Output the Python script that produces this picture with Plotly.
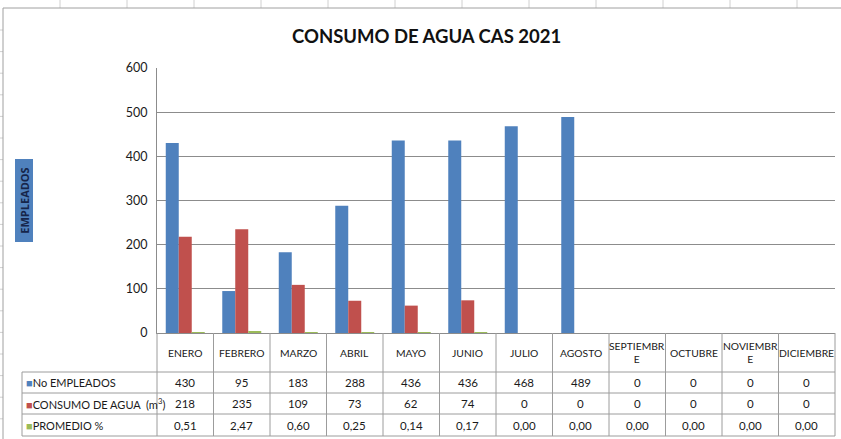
import plotly.graph_objects as go

# ---------------- data ----------------
months = ["ENERO", "FEBRERO", "MARZO", "ABRIL", "MAYO", "JUNIO", "JULIO",
          "AGOSTO", "SEPTIEMBRE", "OCTUBRE", "NOVIEMBRE", "DICIEMBRE"]
month_labels = ["ENERO", "FEBRERO", "MARZO", "ABRIL", "MAYO", "JUNIO", "JULIO",
                "AGOSTO", "SEPTIEMBR<br>E", "OCTUBRE", "NOVIEMBR<br>E", "DICIEMBRE"]
empleados = [430, 95, 183, 288, 436, 436, 468, 489, 0, 0, 0, 0]
consumo = [218, 235, 109, 73, 62, 74, 0, 0, 0, 0, 0, 0]
promedio = [0.51, 2.47, 0.60, 0.25, 0.14, 0.17, 0.00, 0.00, 0.00, 0.00, 0.00, 0.00]
series_names = ["No EMPLEADOS", "CONSUMO DE AGUA  (m<sup>3</sup>)", "PROMEDIO %"]
y_ticks = [0, 100, 200, 300, 400, 500, 600]

BLUE, RED, GREEN = "#4F81BD", "#C0504D", "#9BBB59"
FONT = "Lato, Roboto, sans-serif"
GRID = "#8C8C8C"
TBL = "#9C9C9C"
TXT = "#1A1A1A"

W, H = 841, 439
L, R, T, B = 157, 6, 68, 106
PW, PH = W - L - R, H - T - B


def px(x):
    return (x - L) / PW


def py(y):
    return (H - B - y) / PH


fig = go.Figure()
for name, vals, col in [(series_names[0], empleados, BLUE),
                        (series_names[1], consumo, RED),
                        (series_names[2], promedio, GREEN)]:
    fig.add_trace(go.Bar(x=months, y=vals, name=name, marker_color=col,
                         marker_line_width=0, showlegend=False))

shapes = []
annotations = []


def pline(x0, y0, x1, y1, color, width=1):
    shapes.append(dict(type="line", xref="paper", yref="paper",
                       x0=x0, x1=x1, y0=y0, y1=y1,
                       line=dict(color=color, width=width)))


# spreadsheet background cells (outside chart)
for k in range(13):
    xc = 60 + 67 * k
    if xc < W:
        pline(px(xc), py(0), px(xc), py(8), "#D0D0D0")
for k in range(20):
    yc = 30 + 21.6 * k
    if yc < H:
        pline(px(0), py(yc), px(3), py(yc), "#D0D0D0")
# chart border
pline(px(3), py(8), px(W), py(8), "#A0A0A0")
pline(px(3), py(8), px(3), py(H), "#A0A0A0")

# data table grid
row_bounds = [372, 393, 414, 436]
tbl_left = 22
n = len(months)
for yb in row_bounds:
    pline(px(tbl_left), py(yb), 1, py(yb), TBL)
for i in range(n + 1):
    xb = i / n  # category boundary on the axis range [-0.5, n-0.5]
    pline(xb, 0, xb, py(row_bounds[-1]), TBL)
pline(px(tbl_left), py(row_bounds[0]), px(tbl_left), py(row_bounds[-1]), TBL)

# header row
for m, lab in zip(months, month_labels):
    annotations.append(dict(x=m, y=py(352.5), xref="x", yref="paper",
                            xanchor="center", yanchor="middle",
                            text=lab, showarrow=False,
                            font=dict(family=FONT, size=10.3, color=TXT)))

row_centers = [382.5, 403.5, 425]
rows = [[str(v) for v in empleados],
        [str(v) for v in consumo],
        [f"{v:.2f}".replace(".", ",") for v in promedio]]
colors = [BLUE, RED, GREEN]
for rc, name, col, vals in zip(row_centers, series_names, colors, rows):
    annotations.append(dict(x=px(24), y=py(rc), xref="paper", yref="paper",
                            xanchor="left", yanchor="middle", showarrow=False,
                            text=f"<span style='color:{col}'>■</span>{name}",
                            font=dict(family=FONT, size=11, color=TXT)))
    for m, v in zip(months, vals):
        annotations.append(dict(x=m, y=py(rc), xref="x", yref="paper",
                                xanchor="center", yanchor="middle",
                                text=v, showarrow=False,
                                font=dict(family=FONT, size=11.5, color=TXT)))

# title
annotations.append(dict(x=px(426), y=py(36), xref="paper", yref="paper",
                        xanchor="center", yanchor="middle",
                        text="<b>CONSUMO DE AGUA CAS 2021</b>", showarrow=False,
                        font=dict(family=FONT, size=18.5, color="#111111")))
# y axis title
annotations.append(dict(x=px(23.5), y=py(201), xref="paper", yref="paper",
                        xanchor="center", yanchor="middle",
                        text="<b>EMPLEADOS</b>", textangle=-90, showarrow=False,
                        bgcolor=BLUE, borderpad=0, width=82, height=17,
                        font=dict(family="Open Sans, sans-serif", size=11,
                                  color="#16254A")))

fig.update_layout(
    width=W, height=H,
    margin=dict(l=L, r=R, t=T, b=B),
    paper_bgcolor="white", plot_bgcolor="white",
    barmode="group", bargap=0.31, bargroupgap=0,
    shapes=shapes, annotations=annotations,
    showlegend=False,
)
fig.update_xaxes(showticklabels=False, ticks="", showgrid=False,
                 showline=True, linecolor=GRID, linewidth=1,
                 range=[-0.5, n - 0.5], zeroline=False)
fig.update_yaxes(range=[0, 600], tickvals=y_ticks, showgrid=True,
                 gridcolor=GRID, gridwidth=1, zeroline=False,
                 showline=True, linecolor=GRID, linewidth=1,
                 ticks="", ticklabelstandoff=6,
                 tickfont=dict(family=FONT, size=12.5, color=TXT))

fig.write_html("out.html",
               config={"displayModeBar": False},
               post_script="document.body.style.margin='0';"
                           "document.body.style.overflow='hidden';")
